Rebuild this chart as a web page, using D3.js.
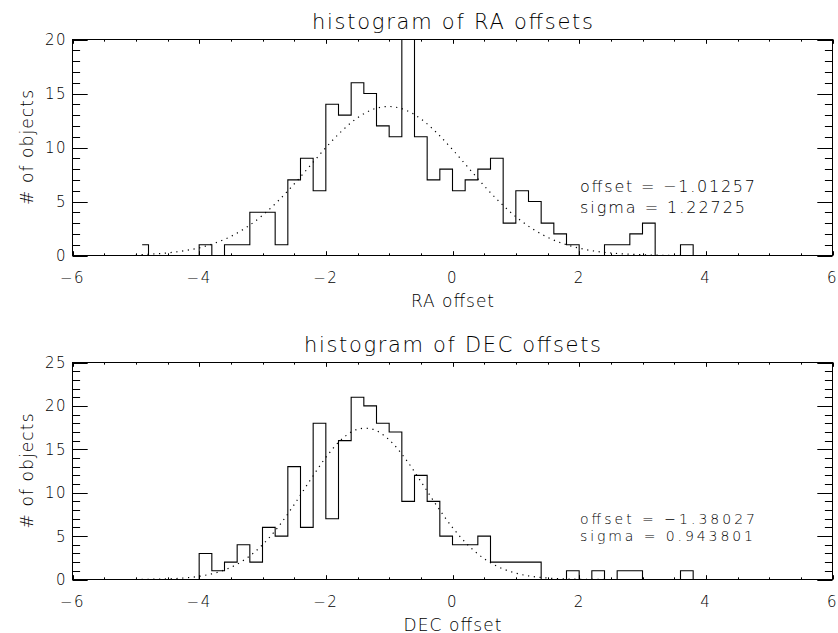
<!DOCTYPE html>
<html><head><meta charset="utf-8">
<script src="https://cdn.jsdelivr.net/npm/d3@7/dist/d3.min.js"></script>
<style>
html,body{margin:0;padding:0;background:#fff;}
svg{display:block;}
text{font-family:"DejaVu Sans","Liberation Sans",sans-serif;font-weight:200;fill:#000;}
</style></head>
<body>
<svg id="chart" width="838" height="633"></svg>
<script>
// ---------- data ----------
const binCenters = [-4.9,-4.7,-4.5,-4.3,-4.1,-3.9,-3.7,-3.5,-3.3,-3.1,-2.9,-2.7,-2.5,-2.3,-2.1,-1.9,-1.7,-1.5,-1.3,-1.1,-0.9,-0.7,-0.5,-0.3,-0.1,0.1,0.3,0.5,0.7,0.9,1.1,1.3,1.5,1.7,1.9,2.1,2.3,2.5,2.7,2.9,3.1,3.3,3.5,3.7,3.9,4.1,4.3,4.5,4.7,4.9];
const raCounts  = [1,0,0,0,0,1,0,1,1,4,4,1,7,9,6,14,13,16,15,12,11,20,11,7,8,6,7,8,9,3,6,5,3,2,1,0,0,1,1,2,3,0,0,1,0,0,0,0,0,0];
const decCounts = [0,0,0,0,0,3,1,2,4,2,6,5,13,6,18,7,16,21,20,18,17,9,12,9,5,4,4,5,2,2,2,2,0,0,1,0,1,0,1,1,0,0,0,1,0,0,0,0,0,0];

const fitX   = [-5,-4.75,-4.5,-4.25,-4,-3.75,-3.5,-3.25,-3,-2.75,-2.5,-2.25,-2,-1.75,-1.5,-1.25,-1,-0.75,-0.5,-0.25,0,0.25,0.5,0.75,1,1.25,1.5,1.75,2,2.25,2.5,2.75,3,3.25,3.5,3.75,4,4.25,4.5,4.75,5];
const raFit  = [0.07,0.13,0.24,0.43,0.71,1.15,1.77,2.62,3.72,5.07,6.62,8.30,9.99,11.52,12.75,13.55,13.80,13.49,12.65,11.37,9.81,8.13,6.45,4.92,3.59,2.52,1.69,1.09,0.68,0.40,0.23,0.13,0.07,0.03,0.01,0,0,0,0,0,0];
const decFit = [0.01,0.03,0.07,0.17,0.37,0.75,1.40,2.45,4.00,6.08,8.63,11.41,14.06,16.16,17.31,17.29,16.09,13.97,11.30,8.52,5.99,3.93,2.40,1.37,0.73,0.36,0.17,0.07,0.03,0.01,0,0,0,0,0,0,0,0,0,0,0];

const xTickValues = [-6,-4,-2,0,2,4,6];
const xTickLabels = ["\u22126","\u22124","\u22122","0","2","4","6"];
const raYTicks  = [0,5,10,15,20];
const decYTicks = [0,5,10,15,20,25];

const titles  = ["histogram of RA offsets","histogram of DEC offsets"];
const xTitles = ["RA offset","DEC offset"];
const yTitle  = "# of objects";
const raNotes  = ["offset = \u22121.01257","sigma = 1.22725"];
const decNotes = ["offset = \u22121.38027","sigma = 0.943801"];

// ---------- drawing ----------
const svg = d3.select("#chart");

function panel(cfg){
  const x = d3.scaleLinear().domain([-6,6]).range([72.5,832.5]);
  const y = d3.scaleLinear().domain([0,cfg.ymax]).range([cfg.bottom,cfg.top]);
  const g = svg.append("g");
  const L=x.range()[0], R=x.range()[1], T=cfg.top, B=cfg.bottom;
  const ytl = 0.02*(R-L), xtl = 0.02*(B-T);

  const cid = "clip"+cfg.id;
  svg.append("clipPath").attr("id",cid).append("rect")
     .attr("x",L).attr("y",T-0.5).attr("width",R-L).attr("height",B-T+1);

  g.append("rect").attr("x",L).attr("y",T).attr("width",R-L).attr("height",B-T)
   .attr("fill","none").attr("stroke","#000").attr("stroke-width",1);

  const xMinor = x.ticks(24);
  const tk = g.append("g").attr("stroke","#000").attr("stroke-width",1);
  xMinor.forEach(v=>{
    const major = xTickValues.includes(v);
    const len = major ? xtl : xtl/2;
    const px = Math.round(x(v))+0.5;
    tk.append("line").attr("x1",px).attr("x2",px).attr("y1",B).attr("y2",B-len);
    tk.append("line").attr("x1",px).attr("x2",px).attr("y1",T).attr("y2",T+len);
  });
  const yMinor = y.ticks(cfg.ymax);
  yMinor.forEach(v=>{
    const major = cfg.yTicks.includes(v);
    const len = major ? ytl : ytl/2;
    const py = Math.round(y(v))+0.5;
    tk.append("line").attr("x1",L).attr("x2",L+len).attr("y1",py).attr("y2",py);
    tk.append("line").attr("x1",R).attr("x2",R-len).attr("y1",py).attr("y2",py);
  });

  xTickValues.forEach((v,i)=>{
    g.append("text").attr("x",x(v)).attr("y",B+27.5).attr("text-anchor","middle")
     .attr("font-size",15).attr("letter-spacing","1.5px").text(xTickLabels[i]);
  });
  cfg.yTicks.forEach(v=>{
    g.append("text").attr("x",67).attr("y",y(v)).attr("dy","0.36em").attr("text-anchor","end")
     .attr("font-size",15).attr("letter-spacing","1.5px").text(String(v));
  });

  g.append("text").attr("x",(L+R)/2).attr("y",T-10.2).attr("text-anchor","middle")
   .attr("font-size",21).attr("textLength",cfg.titleLen).attr("lengthAdjust","spacing").text(cfg.title);
  g.append("text").attr("x",(L+R)/2).attr("y",B+51).attr("text-anchor","middle")
   .attr("font-size",17).attr("textLength",cfg.xtLen).attr("lengthAdjust","spacing").text(cfg.xTitle);
  g.append("text").attr("transform",`translate(32.5,${(T+B)/2}) rotate(-90)`).attr("text-anchor","middle")
   .attr("font-size",17).attr("textLength",115).attr("lengthAdjust","spacing").text(yTitle);

  const hist = d3.line().x((d,i)=>x(binCenters[i])).y(d=>y(d)).curve(d3.curveStep);
  g.append("path").attr("d",hist(cfg.counts)).attr("fill","none")
   .attr("stroke","#000").attr("stroke-width",1.1).attr("clip-path",`url(#${cid})`);

  const fit = d3.line().x((d,i)=>x(fitX[i])).y(d=>y(d)).curve(d3.curveCatmullRom);
  g.append("path").attr("d",fit(cfg.fit)).attr("fill","none")
   .attr("stroke","#000").attr("stroke-width",1.2).attr("stroke-dasharray","1.2,4.6")
   .attr("clip-path",`url(#${cid})`);

  cfg.notes.forEach((t,i)=>{
    g.append("text").attr("x",580).attr("y",cfg.noteY[i]).attr("font-size",cfg.noteSize)
     .attr("textLength",cfg.noteLen[i]).attr("lengthAdjust","spacing").text(t);
  });
}

panel({id:"ra", top:39.5, bottom:255.5, ymax:20, yTicks:raYTicks, counts:raCounts, fit:raFit,
       title:titles[0], titleLen:281, xTitle:xTitles[0], xtLen:83, notes:raNotes,
       noteY:[191.7,212.7], noteLen:[175,165], noteSize:16});
panel({id:"dec", top:362.5, bottom:579.5, ymax:25, yTicks:decYTicks, counts:decCounts, fit:decFit,
       title:titles[1], titleLen:297, xTitle:xTitles[1], xtLen:98, notes:decNotes,
       noteY:[524,540.5], noteLen:[175,173], noteSize:14});
</script>
</body></html>
